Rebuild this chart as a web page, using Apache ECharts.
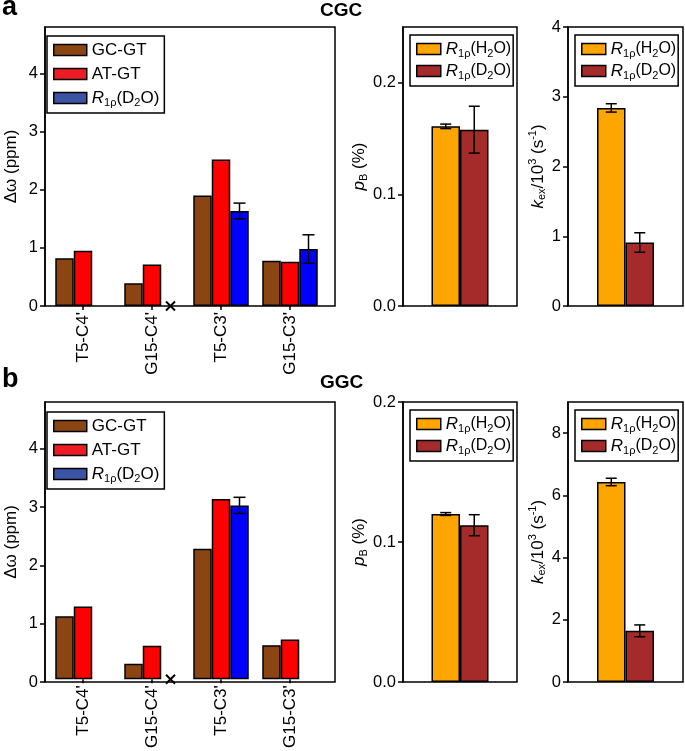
<!DOCTYPE html>
<html>
<head>
<meta charset="utf-8">
<script src="https://cdn.jsdelivr.net/npm/echarts@6/dist/echarts.min.js"></script>
<style>
  html, body { margin: 0; padding: 0; background: #fff; }
  #chart { width: 685px; height: 751px; }
</style>
</head>
<body>
<div id="chart"></div>
<script>
// categories
const sites = ["T5-C4'", "G15-C4'", "T5-C3'", "G15-C3'"];

// panel a (CGC) chemical shift differences, ppm
const aGCGT = [0.82, 0.39, 1.90, 0.78];
const aATGT = [0.95, 0.715, 2.52, 0.76];
const aD2O = [null, null, 1.635, 0.98];
const aD2OErr = [null, null, 0.135, 0.245];
const aNotFound = [null, 0, null, null];

// panel b (GGC)
const bGCGT = [1.09, 0.27, 2.26, 0.59];
const bATGT = [1.26, 0.58, 3.12, 0.69];
const bD2O = [null, null, 3.01, null];
const bD2OErr = [null, null, 0.14, null];
const bNotFound = [null, 0, null, null];

// pB (%) and kex/10^3 (s-1): [H2O, D2O]
const aPb = [0.161, 0.158];
const aPbErr = [0.002, 0.021];
const aKex = [2.84, 0.91];
const aKexErr = [0.06, 0.14];
const bPb = [0.120, 0.112];
const bPbErr = [0.001, 0.0075];
const bKex = [6.43, 1.645];
const bKexErr = [0.12, 0.19];

// tick labels
const dwTicks = [0, 1, 2, 3, 4];
const aPbTicks = [0, 0.1, 0.2];
const aKexTicks = [0, 1, 2, 3, 4];
const bPbTicks = [0, 0.1, 0.2];
const bKexTicks = [0, 2, 4, 6, 8];

const FONT = '"Liberation Sans", Arial, sans-serif';
const BROWN = "#8B4513", RED = "#FF0000", BLUE = "#0000FF";
const ORANGE = "#FFA500", DARKRED = "#A52A2A";
const BW_L = 18.5, BW_R = 28.5;

const rich = {
  i: { fontStyle: "italic", fontFamily: FONT, fontSize: 17, lineHeight: 20, color: "#000" },
  s: { fontFamily: FONT, fontSize: 11, lineHeight: 10, verticalAlign: "bottom", color: "#000" },
  u: { fontFamily: FONT, fontSize: 11, lineHeight: 11, verticalAlign: "top", color: "#000" },
};

const names = {
  GCGT: "GC-GT",
  ATGT: "AT-GT",
  D2O: "{i|R}{s|1ρ}(D{s|2}O)",
  H: "{i|R}{s|1ρ}(H{s|2}O)",
  D: "{i|R}{s|1ρ}(D{s|2}O)",
};
const legendText = (n) => names[n.split("_")[1]];

function errRender(offset, cap) {
  return function (params, api) {
    const x = api.value(0), v = api.value(1), e = api.value(2);
    const hi = api.coord([x, v + e]);
    const lo = api.coord([x, v - e]);
    const cx = hi[0] + offset;
    const style = { stroke: "#000", lineWidth: 1.5 };
    return {
      type: "group",
      children: [
        { type: "line", shape: { x1: cx, y1: hi[1], x2: cx, y2: lo[1] }, style },
        { type: "line", shape: { x1: cx - cap, y1: hi[1], x2: cx + cap, y2: hi[1] }, style },
        { type: "line", shape: { x1: cx - cap, y1: lo[1], x2: cx + cap, y2: lo[1] }, style },
      ],
    };
  };
}

function crossRender(offset) {
  return function (params, api) {
    const p = api.coord([api.value(0), api.value(1)]);
    const cx = p[0] + offset, cy = p[1], r = 4.5;
    const style = { stroke: "#000", lineWidth: 2 };
    return {
      type: "group",
      children: [
        { type: "line", shape: { x1: cx - r, y1: cy - r, x2: cx + r, y2: cy + r }, style },
        { type: "line", shape: { x1: cx - r, y1: cy + r, x2: cx + r, y2: cy - r }, style },
      ],
    };
  };
}

const frame = (left, top, width, height) => ({
  left, top, width, height, show: true, borderColor: "#000", borderWidth: 1.5,
});
const plain = (left, top, width, height) => ({ left, top, width, height });

function valueAxis(gridIndex, max, ticks, name, nameGap, digits) {
  return {
    type: "value", gridIndex, min: 0, max,
    axisLine: { show: true, lineStyle: { color: "#000", width: 1.5 } },
    axisTick: { show: true, length: 5, customValues: ticks, lineStyle: { color: "#000", width: 1.5 } },
    axisLabel: {
      customValues: ticks, formatter: (v) => v.toFixed(digits),
      fontFamily: FONT, fontSize: 16.5, color: "#000", margin: 7,
    },
    splitLine: { show: false },
    name, nameLocation: "middle", nameRotate: 90, nameGap,
    nameTextStyle: { fontFamily: FONT, fontSize: 17, lineHeight: 20, color: "#000", rich },
  };
}
const hiddenY = (gridIndex, max) => ({ type: "value", gridIndex, min: 0, max, show: false });
const hiddenX = (gridIndex, data) => ({ type: "category", gridIndex, data, show: false });
const siteAxis = (gridIndex) => ({
  type: "category", gridIndex, data: sites,
  axisLine: { show: false },
  axisTick: { show: true, alignWithLabel: true, length: 4, lineStyle: { color: "#000", width: 1.5 } },
  axisLabel: { rotate: 90, fontFamily: FONT, fontSize: 17, color: "#000", margin: 6 },
});

function legend(left, top, items, fontSize, itemWidth, itemGap, padRight) {
  return {
    orient: "vertical", left, top, selectedMode: false, icon: "rect",
    itemWidth, itemHeight: 11, itemGap,
    padding: [4, padRight, 5, 6],
    borderColor: "#000", borderWidth: 1.5,
    itemStyle: { borderColor: "#000", borderWidth: 1.5 },
    textStyle: { fontFamily: FONT, fontSize, lineHeight: 20, color: "#000", rich },
    formatter: legendText,
    data: items.map(([name, color]) => ({ name, itemStyle: { color } })),
  };
}

const bar = (name, g, data, color, barWidth) => ({
  type: "bar", name, xAxisIndex: g, yAxisIndex: g, data, barWidth, barGap: "0%",
  itemStyle: { color, borderColor: "#000", borderWidth: 1.5 },
});
const errs = (g, vals, es, offset, cap) => ({
  type: "custom", xAxisIndex: g, yAxisIndex: g, z: 5, silent: true,
  renderItem: errRender(offset, cap),
  data: vals.map((v, i) => (es[i] == null ? null : [i, v, es[i]])).filter(Boolean),
});
const crosses = (g, marks, offset) => ({
  type: "custom", xAxisIndex: g, yAxisIndex: g, z: 5, silent: true,
  renderItem: crossRender(offset),
  data: marks.map((v, i) => (v == null ? null : [i, v])).filter(Boolean),
});

const dwName = "Δω (ppm)";
const pbName = "{i|p}{s|B} (%)";
const kexName = "{i|k}{s|ex}/10{u|3} (s{u|-1})";

const titleStyle = (size) => ({ fontFamily: FONT, fontSize: size, fontWeight: "bold", color: "#000" });

const option = {
  animation: false,
  backgroundColor: "#fff",
  title: [
    { text: "a", left: 2, top: -6, padding: 0, textStyle: titleStyle(27) },
    { text: "CGC", left: 320, top: 1, padding: 0, textStyle: titleStyle(19) },
    { text: "b", left: 2, top: 366, padding: 0, textStyle: titleStyle(27) },
    { text: "GGC", left: 320, top: 373, padding: 0, textStyle: titleStyle(19) },
  ],
  grid: [
    frame(38, 27, 297, 279), plain(48.5, 27, 276, 279), frame(403, 27, 114, 279), frame(568, 27, 115, 279),
    frame(38, 402, 297, 280), plain(48.5, 402, 276, 280), frame(403, 402, 114, 280), frame(568, 402, 115, 280),
  ],
  xAxis: [
    hiddenX(0, sites), siteAxis(1), hiddenX(2, [""]), hiddenX(3, [""]),
    hiddenX(4, sites), siteAxis(5), hiddenX(6, [""]), hiddenX(7, [""]),
  ],
  yAxis: [
    valueAxis(0, 4.8, dwTicks, dwName, 24, 0), hiddenY(1, 4.8),
    valueAxis(2, 0.25, aPbTicks, pbName, 33, 1), valueAxis(3, 4, aKexTicks, kexName, 20, 0),
    valueAxis(4, 4.8, dwTicks, dwName, 24, 0), hiddenY(5, 4.8),
    valueAxis(6, 0.2, bPbTicks, pbName, 33, 1), valueAxis(7, 9, bKexTicks, kexName, 20, 0),
  ],
  legend: [
    legend(47, 36, [["a_GCGT", BROWN], ["a_ATGT", "#ED1C24"], ["a_D2O", "#3A53A4"]], 17, 33, 4, 5),
    legend(410, 35, [["aPb_H", ORANGE], ["aPb_D", DARKRED]], 16, 24, 2, 2),
    legend(575, 35, [["aKex_H", ORANGE], ["aKex_D", DARKRED]], 16, 24, 2, 2),
    legend(47, 412, [["b_GCGT", BROWN], ["b_ATGT", "#ED1C24"], ["b_D2O", "#3A53A4"]], 17, 33, 4, 5),
    legend(410, 410, [["bPb_H", ORANGE], ["bPb_D", DARKRED]], 16, 24, 2, 2),
    legend(575, 410, [["bKex_H", ORANGE], ["bKex_D", DARKRED]], 16, 24, 2, 2),
  ],
  series: [
    bar("a_GCGT", 1, aGCGT, BROWN, BW_L),
    bar("a_ATGT", 1, aATGT, RED, BW_L),
    bar("a_D2O", 1, aD2O, BLUE, BW_L),
    errs(1, aD2O, aD2OErr, BW_L, 6),
    crosses(1, aNotFound, BW_L),

    bar("aPb_H", 2, [aPb[0]], ORANGE, BW_R),
    bar("aPb_D", 2, [aPb[1]], DARKRED, BW_R),
    errs(2, [aPb[0]], [aPbErr[0]], -BW_R / 2, 5.5),
    errs(2, [aPb[1]], [aPbErr[1]], BW_R / 2, 5.5),

    bar("aKex_H", 3, [aKex[0]], ORANGE, BW_R),
    bar("aKex_D", 3, [aKex[1]], DARKRED, BW_R),
    errs(3, [aKex[0]], [aKexErr[0]], -BW_R / 2, 5.5),
    errs(3, [aKex[1]], [aKexErr[1]], BW_R / 2, 5.5),

    bar("b_GCGT", 5, bGCGT, BROWN, BW_L),
    bar("b_ATGT", 5, bATGT, RED, BW_L),
    bar("b_D2O", 5, bD2O, BLUE, BW_L),
    errs(5, bD2O, bD2OErr, BW_L, 6),
    crosses(5, bNotFound, BW_L),

    bar("bPb_H", 6, [bPb[0]], ORANGE, BW_R),
    bar("bPb_D", 6, [bPb[1]], DARKRED, BW_R),
    errs(6, [bPb[0]], [bPbErr[0]], -BW_R / 2, 5.5),
    errs(6, [bPb[1]], [bPbErr[1]], BW_R / 2, 5.5),

    bar("bKex_H", 7, [bKex[0]], ORANGE, BW_R),
    bar("bKex_D", 7, [bKex[1]], DARKRED, BW_R),
    errs(7, [bKex[0]], [bKexErr[0]], -BW_R / 2, 5.5),
    errs(7, [bKex[1]], [bKexErr[1]], BW_R / 2, 5.5),
  ],
};

const myChart = echarts.init(document.getElementById("chart"));
myChart.setOption(option);

window.addEventListener("resize", function () {
  myChart.resize();
});
</script>
</body>
</html>
